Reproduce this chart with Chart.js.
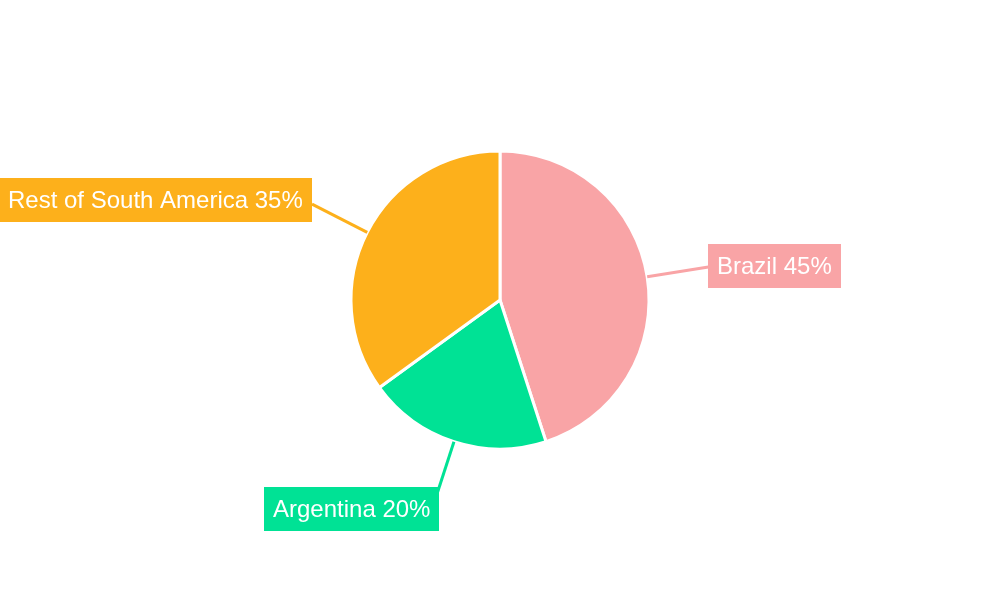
<!DOCTYPE html>
<html>
<head>
<meta charset="utf-8">
<style>
  html, body { margin: 0; padding: 0; background: #ffffff; }
  #wrap { width: 1000px; height: 600px; }
</style>
<script src="https://cdn.jsdelivr.net/npm/chart.js@4.4.7/dist/chart.umd.min.js"></script>
</head>
<body>
<div id="wrap"><canvas id="pieChart" width="1000" height="600"></canvas></div>
<script>
  var labels = ["Brazil", "Argentina", "Rest of South America"];
  var shares = [45, 20, 35];
  var colors = ["#f9a4a6", "#00e295", "#fdb01b"];

  // draws the boxed labels with a radial connector line for each slice
  var sliceLabels = {
    id: "sliceLabels",
    afterDatasetsDraw: function (chart) {
      var ctx = chart.ctx;
      var meta = chart.getDatasetMeta(0);
      ctx.save();
      ctx.font = "24px 'Liberation Sans', Arial, sans-serif";
      ctx.textBaseline = "middle";
      meta.data.forEach(function (arc, i) {
        var mid = (arc.startAngle + arc.endAngle) / 2;
        var dx = Math.cos(mid);
        var dy = Math.sin(mid);
        var r = arc.outerRadius;
        var x0 = arc.x + dx * r;
        var y0 = arc.y + dy * r;
        var x1 = arc.x + dx * (r + 62);
        var y1 = arc.y + dy * (r + 62);

        ctx.strokeStyle = colors[i];
        ctx.lineWidth = 3;
        ctx.beginPath();
        ctx.moveTo(x0, y0);
        ctx.lineTo(x1, y1);
        ctx.stroke();

        var text = labels[i] + " " + shares[i] + "%";
        var w = ctx.measureText(text).width + 18;
        var h = 44;
        var bx = dx >= 0 ? x1 : x1 - w;
        if (dy > 0.8) bx = x1 + 5 - w;
        var by = y1 + dy * 9 - h / 2;

        ctx.fillStyle = colors[i];
        ctx.fillRect(Math.round(bx), Math.round(by), Math.round(w), h);
        ctx.fillStyle = "#ffffff";
        ctx.textAlign = "left";
        ctx.fillText(text, Math.round(bx) + 9, Math.round(by) + h / 2 + 1);
      });
      ctx.restore();
    },
  };

  new Chart(document.getElementById("pieChart"), {
    type: "pie",
    data: {
      labels: labels,
      datasets: [{
        data: shares,
        backgroundColor: colors,
        borderColor: "#ffffff",
        borderWidth: 3,
      }],
    },
    options: {
      responsive: false,
      animation: false,
      radius: 149,
      plugins: {
        legend: { display: false },
        tooltip: { enabled: false },
      },
    },
    plugins: [sliceLabels],
  });
</script>
</body>
</html>
